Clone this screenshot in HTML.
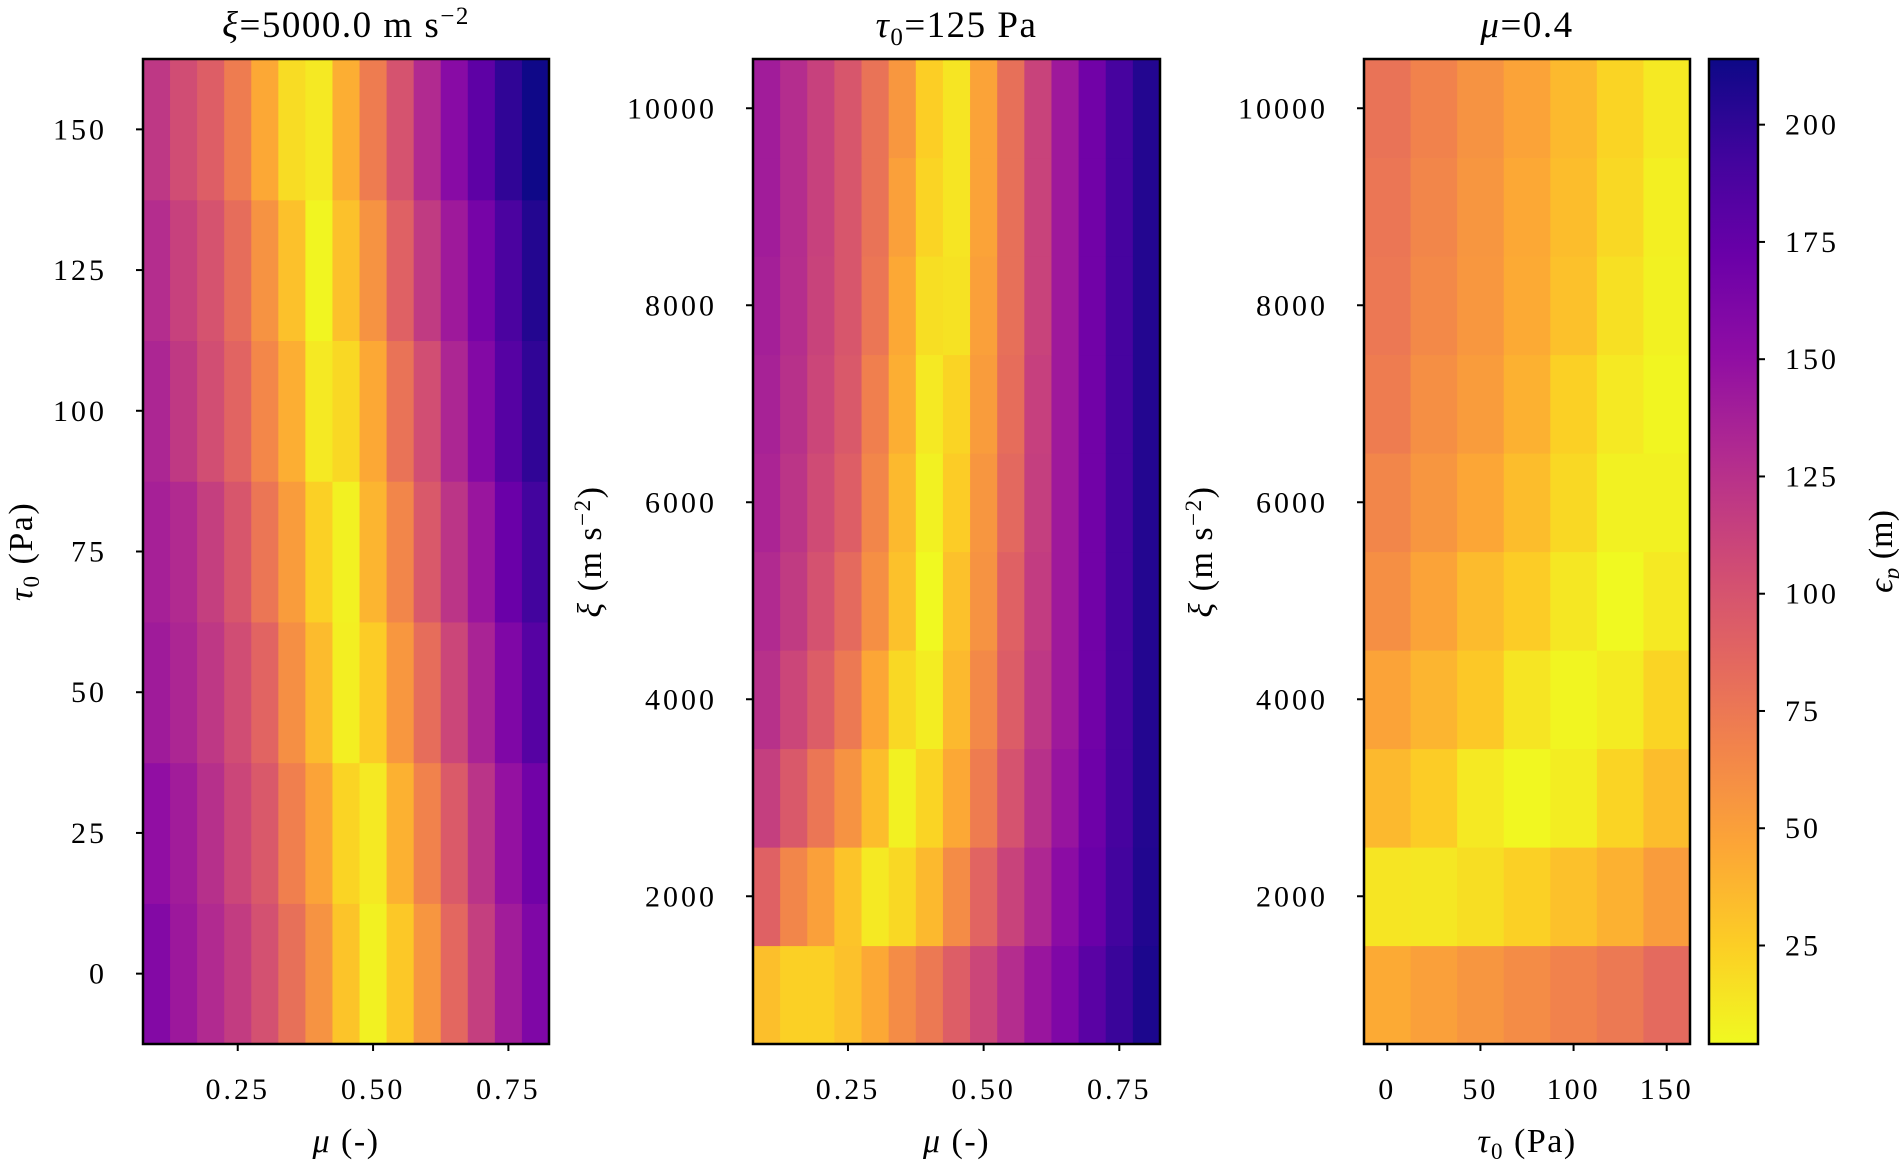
<!DOCTYPE html>
<html><head><meta charset="utf-8"><style>
html,body{margin:0;padding:0;background:#fff;}
svg{display:block;font-family:"Liberation Serif",serif;}
</style></head><body>
<svg id="fig" width="1899" height="1160" viewBox="0 0 1899 1160" xmlns="http://www.w3.org/2000/svg"></svg>
<script>
// ---- data ----
const muCats = [0.1,0.15,0.2,0.25,0.3,0.35,0.4,0.45,0.5,0.55,0.6,0.65,0.7,0.75,0.8];
const tauCats = [0,25,50,75,100,125,150];
const xiCats = [1000,2000,3000,4000,5000,6000,7000,8000,9000,10000];
// panel 1: rows tau 0..150 (bottom to top), cols mu
const p1Values = [
 [158,143,130,117,102,80,58,30,8,28,56,86,115,140,160],
 [150,140,126,110,96,70,48,22,12,40,68,95,123,148,168],
 [141,133,120,105,88,60,35,9,26,55,82,110,135,160,182],
 [137,130,115,98,76,52,24,8,38,66,96,122,145,172,192],
 [133,119,104,88,65,42,12,20,45,78,104,133,158,182,200],
 [128,113,100,82,58,32,6,32,58,90,118,142,165,188,205],
 [120,105,92,72,45,18,12,42,72,100,130,155,178,200,213]
];
// panel 2: rows xi 1000..10000, cols mu
const p2Values = [
 [33,24,24,32,45,62,74,92,110,128,145,160,180,196,208],
 [90,66,50,30,12,20,36,62,88,112,132,153,172,192,206],
 [115,96,76,58,34,8,22,45,72,100,125,146,170,190,205],
 [125,110,93,74,46,20,10,36,64,93,120,142,168,190,205],
 [130,118,101,84,60,32,4,32,58,90,117,142,168,190,205],
 [134,122,106,92,66,36,8,26,56,85,115,142,168,190,205],
 [136,125,110,96,70,42,12,22,52,82,114,142,168,190,205],
 [138,127,112,98,76,45,17,15,50,80,112,142,168,190,205],
 [140,128,113,98,78,50,22,14,48,80,112,142,168,190,205],
 [140,128,113,98,78,55,25,14,48,80,112,142,168,190,205]
];
// panel 3: rows xi 1000..10000, cols tau
const p3Values = [
 [44,50,56,62,68,74,84],
 [14,13,17,24,32,40,52],
 [36,26,12,5,10,22,34],
 [48,38,28,14,6,11,22],
 [60,48,35,26,13,4,12],
 [66,56,46,34,20,8,8],
 [72,60,52,40,24,12,6],
 [75,64,55,44,32,16,8],
 [76,66,56,45,34,20,9],
 [78,68,58,48,36,22,12]
];
const muTicks = [0.25,0.5,0.75];
const muTickLabels = ["0.25","0.50","0.75"];
const tauYTicks = [0,25,50,75,100,125,150];
const xiTicks = [2000,4000,6000,8000,10000];
const tauXTicks = [0,50,100,150];
const cbTicks = [25,50,75,100,125,150,175,200];
const vmin = 4, vmax = 214;

// ---- colormap (plasma reversed) ----
const plasma = ["#0d0887","#41049d","#6a00a8","#8f0da4","#b12a90","#cc4778","#e16462","#f2844b","#fca636","#fcce25","#f0f921"];
function hex(h){return [parseInt(h.substr(1,2),16),parseInt(h.substr(3,2),16),parseInt(h.substr(5,2),16)];}
const pl = plasma.map(hex);
function cmap(v){
  let p = 1 - (v - vmin)/(vmax - vmin);
  p = Math.max(0,Math.min(1,p));
  const f = p*10, i = Math.min(9,Math.floor(f)), t = f - i;
  const a = pl[i], b = pl[i+1];
  return "rgb("+a.map((c,k)=>Math.round(c+(b[k]-c)*t)).join(",")+")";
}

const NS = "http://www.w3.org/2000/svg";
const svg = document.getElementById("fig");
function el(tag, attrs, parent){
  const e = document.createElementNS(NS, tag);
  for (const k in attrs) e.setAttribute(k, attrs[k]);
  (parent||svg).appendChild(e);
  return e;
}
function lin(d0,d1,r0,r1){return v => r0 + (v-d0)/(d1-d0)*(r1-r0);}

const TICK_FS = 30, TICK_LS = 3;
const axTop = 59, axBot = 1044;
function panel(opt){
  const g = el("g",{});
  
  
  const xs = lin(opt.xd[0],opt.xd[1],opt.x0,opt.x1);
  const ys = lin(opt.yd[0],opt.yd[1],axBot,axTop);
  opt.vals.forEach((row,ri)=>{
    row.forEach((v,ci)=>{
      const xc = opt.xc[ci], yc = opt.yc[ri];
      const xa = xs(xc-opt.dx/2), xb = xs(xc+opt.dx/2);
      const ya = ys(yc+opt.dy/2), yb = ys(yc-opt.dy/2);
      const r = el("rect",{x:xa,y:ya,width:xb-xa+0.6,height:yb-ya+0.6,fill:cmap(v)},g);
      
      
    });
  });
  const fr = el("rect",{x:opt.x0,y:axTop,width:opt.x1-opt.x0,height:axBot-axTop,fill:"none",stroke:"#000","stroke-width":2.5},g);
  
  
  opt.xt.forEach((t,i)=>{
    const x = xs(t);
    el("line",{x1:x,x2:x,y1:axBot,y2:axBot+7,stroke:"#000","stroke-width":2},g);
    const tx = el("text",{x:x,y:1099,"font-size":TICK_FS,"letter-spacing":TICK_LS,"text-anchor":"middle"},g);
    tx.textContent = opt.xtl[i];
    
    
  });
  opt.yt.forEach(t=>{
    const y = ys(t);
    el("line",{x1:opt.x0-7,x2:opt.x0,y1:y,y2:y,stroke:"#000","stroke-width":2},g);
    const tx = el("text",{x:opt.x0-36,y:y+10,"font-size":TICK_FS,"letter-spacing":TICK_LS,"text-anchor":"end"},g);
    tx.textContent = String(t);
    
    
  });
  const xl = el("text",{x:(opt.x0+opt.x1)/2,y:1152,"font-size":34,"letter-spacing":1.5,"text-anchor":"middle"},g);
  xl.innerHTML = opt.xlabel;
  
  
  const yl = el("text",{x:0,y:0,"font-size":34,"letter-spacing":1.5,"text-anchor":"middle",transform:"translate("+opt.ylx+","+((axTop+axBot)/2)+") rotate(-90)"},g);
  yl.innerHTML = opt.ylabel;
  
  
  const tt = el("text",{x:(opt.x0+opt.x1)/2,y:37,"font-size":37,"letter-spacing":1.5,"text-anchor":"middle"},g);
  tt.innerHTML = opt.title;
  
  
}

panel({name:"heatmap-mu-tau",x0:143,x1:549,xd:[0.075,0.825],yd:[-12.5,162.5],xc:muCats,yc:tauCats,dx:0.05,dy:25,vals:p1Values,
  xt:muTicks,xtl:muTickLabels,yt:tauYTicks,xlabel:'<tspan font-style="italic">μ</tspan> (-)',ylabel:'<tspan font-style="italic">τ</tspan><tspan font-size="23" dy="7">0</tspan><tspan dy="-7"> (Pa)</tspan>',ylx:32,
  title:'<tspan font-style="italic">ξ</tspan>=5000.0 m s<tspan font-size="25" dy="-13">−2</tspan>'});
panel({name:"heatmap-mu-xi",x0:753,x1:1160,xd:[0.075,0.825],yd:[500,10500],xc:muCats,yc:xiCats,dx:0.05,dy:1000,vals:p2Values,
  xt:muTicks,xtl:muTickLabels,yt:xiTicks,xlabel:'<tspan font-style="italic">μ</tspan> (-)',ylabel:'<tspan font-style="italic">ξ</tspan> (m s<tspan font-size="23" dy="-11">−2</tspan><tspan dy="11">)</tspan>',ylx:601,
  title:'<tspan font-style="italic">τ</tspan><tspan font-size="25" dy="8">0</tspan><tspan dy="-8">=125 Pa</tspan>'});
panel({name:"heatmap-tau-xi",x0:1364,x1:1690,xd:[-12.5,162.5],yd:[500,10500],xc:tauCats,yc:xiCats,dx:25,dy:1000,vals:p3Values,
  xt:tauXTicks,xtl:tauXTicks.map(String),yt:xiTicks,xlabel:'<tspan font-style="italic">τ</tspan><tspan font-size="23" dy="7">0</tspan><tspan dy="-7"> (Pa)</tspan>',ylabel:'<tspan font-style="italic">ξ</tspan> (m s<tspan font-size="23" dy="-11">−2</tspan><tspan dy="11">)</tspan>',ylx:1212,
  title:'<tspan font-style="italic">μ</tspan>=0.4'});

// colorbar
const cb = el("g",{});


const cx0 = 1709, cx1 = 1758;
const cy = lin(vmin,vmax,axBot,axTop);
const defs = el("defs",{},cb);
const grad = el("linearGradient",{id:"cbg",x1:0,y1:1,x2:0,y2:0},defs);
for (let i=0;i<=20;i++){
  const v = vmin + (vmax-vmin)*i/20;
  el("stop",{offset:(i/20),"stop-color":cmap(v)},grad);
}
el("rect",{x:cx0,y:axTop,width:cx1-cx0,height:axBot-axTop,fill:"url(#cbg)",stroke:"#000","stroke-width":2.5},cb);
cbTicks.forEach(t=>{
  const y = cy(t);
  el("line",{x1:cx1,x2:cx1+7,y1:y,y2:y,stroke:"#000","stroke-width":2},cb);
  const tx = el("text",{x:cx1+27,y:y+10,"font-size":TICK_FS,"letter-spacing":TICK_LS},cb);
  tx.textContent = String(t);
  
  
});
const cl = el("text",{x:0,y:0,"font-size":34,"text-anchor":"middle",transform:"translate(1892,"+((axTop+axBot)/2)+") rotate(-90)"},cb);
cl.innerHTML = '<tspan font-style="italic">ϵ</tspan><tspan font-size="23" dy="7" font-style="italic">p</tspan><tspan dy="-7"> (m)</tspan>';


</script>
</body></html>
